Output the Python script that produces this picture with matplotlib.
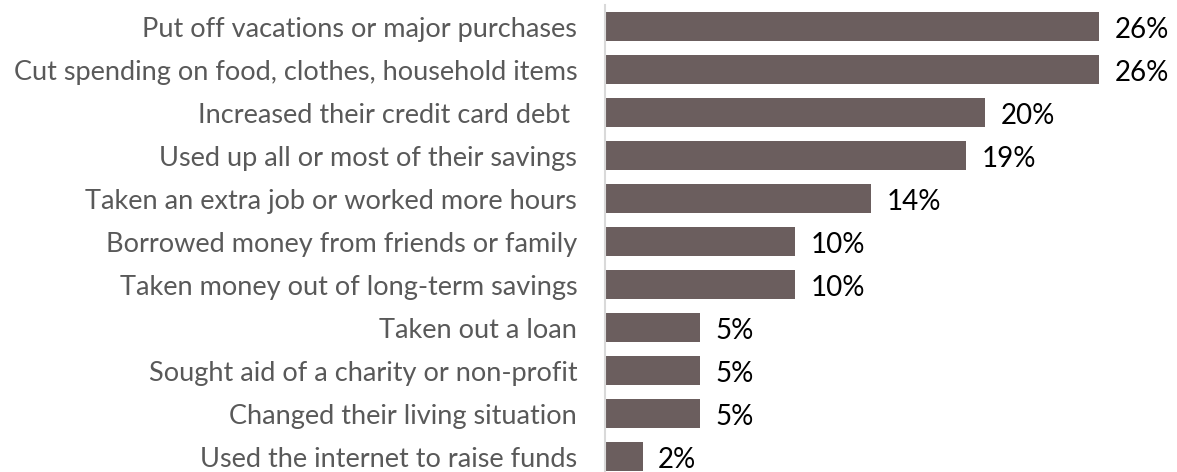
import matplotlib
matplotlib.use("Agg")
import matplotlib.pyplot as plt

# survey answers, top to bottom
labels = [
    "Put off vacations or major purchases",
    "Cut spending on food, clothes, household items",
    "Increased their credit card debt ",
    "Used up all or most of their savings",
    "Taken an extra job or worked more hours",
    "Borrowed money from friends or family",
    "Taken money out of long-term savings",
    "Taken out a loan",
    "Sought aid of a charity or non-profit",
    "Changed their living situation",
    "Used the internet to raise funds",
]
values = [26, 26, 20, 19, 14, 10, 10, 5, 5, 5, 2]

bar_color = "#6b5e5e"

plt.rcParams["font.family"] = ["Lato", "DejaVu Sans"]

fig = plt.figure(figsize=(11.77, 4.72), dpi=100)
ax = fig.add_axes([0.514, 0.0, 0.486, 0.99])

ypos = list(range(len(values)))
ax.barh(ypos, values, height=0.67, color=bar_color)

for y, v in zip(ypos, values):
    ax.text(v + 0.8, y + 0.08, f"{v}%", va="center", ha="left", fontsize=20, color="black")

ax.set_yticks(ypos)
ax.set_yticklabels(labels, fontsize=19.5, color="#595959")
ax.tick_params(axis="y", length=0, pad=20)
ax.set_xticks([])
ax.set_xlim(0, 30.1)
ax.set_ylim(10.36, -0.51)

for s in ["top", "right", "bottom"]:
    ax.spines[s].set_visible(False)
ax.spines["left"].set_color("#d9d9d9")
ax.spines["left"].set_linewidth(1.5)

fig.savefig("out.png", dpi=100)
